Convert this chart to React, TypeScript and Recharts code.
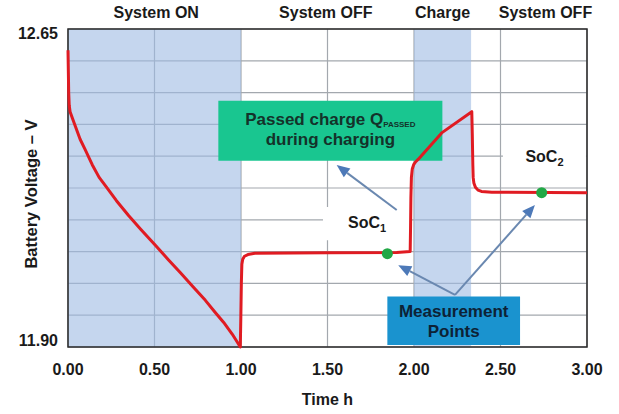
import React from "react"
import {
  ComposedChart,
  Line,
  Scatter,
  XAxis,
  YAxis,
  CartesianGrid,
  ReferenceArea,
  ReferenceLine,
} from "recharts"

const FONT = "'Liberation Sans', Arial, sans-serif"
const TEXT = "#1a1a1a"

// battery voltage trace (hours, volts)
const TIME = [
  0, 0.002, 0.004, 0.007, 0.012, 0.025, 0.043, 0.07, 0.1, 0.14, 0.18, 0.217, 0.28, 0.35, 0.42,
  0.505, 0.58, 0.65, 0.72, 0.794, 0.85, 0.9, 0.95, 0.996,
  0.999, 1.002, 1.005, 1.01, 1.02, 1.04, 1.08, 1.5, 1.9, 1.978,
  1.98, 1.982, 1.985, 1.99, 1.998, 2.01, 2.025, 2.16, 2.334,
  2.337, 2.34, 2.342, 2.346, 2.355, 2.37, 2.39, 2.45, 3.0,
]
const VOLTAGE = [
  12.6, 12.55, 12.5, 12.47, 12.455, 12.44, 12.42, 12.39, 12.365, 12.33, 12.3, 12.28, 12.245, 12.21,
  12.178, 12.14, 12.106, 12.075, 12.043, 12.01, 11.982, 11.958, 11.93, 11.9,
  11.97, 12.05, 12.095, 12.107, 12.114, 12.118, 12.121, 12.122, 12.123, 12.125,
  12.18, 12.25, 12.3, 12.32, 12.33, 12.337, 12.343, 12.405, 12.455,
  12.4, 12.33, 12.3, 12.287, 12.277, 12.27, 12.267, 12.265, 12.264,
]

const MEAS_T = [1.846, 2.738]
const MEAS_V = [12.12, 12.264]

const X_TICKS = [0, 0.5, 1, 1.5, 2, 2.5, 3]
const Y_TICKS = [11.9, 11.975, 12.05, 12.125, 12.2, 12.275, 12.35, 12.425, 12.5, 12.575, 12.65]
const Y_LABELED = [11.9, 12.65]

const PHASE_LABELS = ["System ON", "System OFF", "Charge", "System OFF"]
const PHASE_TICKS = [0.51, 1.49, 2.165, 2.76]

// shaded "on" phases
const BANDS = [
  [0, 1],
  [2, 2.33],
]

const curve = TIME.map((t, i) => ({ t, v: VOLTAGE[i] }))
const points = MEAS_T.map((t, i) => ({ t, v: MEAS_V[i] }))
const phaseName: Record<string, string> = {}
PHASE_TICKS.forEach((t, i) => (phaseName[String(t)] = PHASE_LABELS[i]))

function Arrow(props: any) {
  const { x1, y1, x2, y2 } = props
  const a = Math.atan2(y2 - y1, x2 - x1)
  const L = 13
  const W = 5.5
  const bx = x2 - L * Math.cos(a)
  const by = y2 - L * Math.sin(a)
  const pts = `${x2},${y2} ${bx + W * Math.sin(a)},${by - W * Math.cos(a)} ${bx - W * Math.sin(a)},${by + W * Math.cos(a)}`
  return (
    <g>
      <line x1={x1} y1={y1} x2={bx} y2={by} stroke="#6a88b0" strokeWidth={2} />
      <polygon points={pts} fill="#4d79b8" />
    </g>
  )
}

function YTick(props: any) {
  const { x, y, payload } = props
  if (!Y_LABELED.includes(payload.value)) return null
  const shift = payload.value === 12.65 ? 4 : -7
  return (
    <text x={x} y={y + shift} dy="0.35em" textAnchor="end" fontFamily={FONT} fontWeight="bold" fontSize={16} fill={TEXT}>
      {payload.value.toFixed(2)}
    </text>
  )
}

function XTick(props: any) {
  const { x, y, payload } = props
  return (
    <text x={x} y={y} textAnchor="middle" fontFamily={FONT} fontWeight="bold" fontSize={16} fill={TEXT}>
      {payload.value.toFixed(2)}
    </text>
  )
}

function PhaseTick(props: any) {
  const { x, payload } = props
  return (
    <text x={x} y={18} textAnchor="middle" fontFamily={FONT} fontWeight="bold" fontSize={16} fill={TEXT}>
      {phaseName[String(payload.value)]}
    </text>
  )
}

const boxText = { fontFamily: FONT, fontWeight: "bold" as const, fontSize: 17, fill: "#14322a", textAnchor: "middle" as const }

export default function App() {
  return (
    <div style={{ position: "absolute", left: 0, top: 0, background: "#fff" }}>
      <ComposedChart width={619} height={414} margin={{ top: 0, right: 32, bottom: 0, left: 0 }}>
        <CartesianGrid stroke="#a3a8ae" strokeWidth={1.2} />
        <XAxis
          dataKey="t"
          type="number"
          domain={[0, 3]}
          ticks={X_TICKS}
          height={67}
          axisLine={false}
          tickLine={false}
          tickSize={0}
          tickMargin={28}
          tick={<XTick />}
          interval={0}
          label={{
            content: ({ viewBox }: any) => (
              <text x={viewBox.x + viewBox.width / 2} y={viewBox.y + 58} textAnchor="middle" fontFamily={FONT} fontWeight="bold" fontSize={16} fill={TEXT}>
                Time h
              </text>
            ),
          }}
        />
        <XAxis
          xAxisId="top"
          orientation="top"
          dataKey="t"
          type="number"
          domain={[0, 3]}
          ticks={PHASE_TICKS}
          height={29}
          axisLine={false}
          tickLine={false}
          tickSize={0}
          tickMargin={11}
          tick={<PhaseTick />}
          interval={0}
        />
        <YAxis
          type="number"
          domain={[11.9, 12.65]}
          ticks={Y_TICKS}
          width={68}
          axisLine={false}
          tickLine={false}
          tickSize={0}
          tickMargin={10}
          tick={<YTick />}
          interval={0}
          label={{
            content: () => {
              const cx = 37
              const cy = 194
              return (
                <text x={cx} y={cy} transform={`rotate(-90, ${cx}, ${cy})`} textAnchor="middle" fontFamily={FONT} fontWeight="bold" fontSize={16.5} fill={TEXT}>
                  Battery Voltage – V
                </text>
              )
            },
          }}
        />

        {BANDS.map(([a, b], i) => (
          <ReferenceArea key={`band-${i}`} x1={a} x2={b} y1={11.9} y2={12.65} fill="#9fbbe3" fillOpacity={0.6} stroke="none" />
        ))}

        {/* white backdrops behind the SoC labels */}
        <ReferenceArea
          x1={1.474}
          x2={1.983}
          y1={12.152}
          y2={12.23}
          fill="#ffffff"
          fillOpacity={1}
          stroke="none"
          label={{
            content: ({ viewBox }: any) => (
              <text x={viewBox.x + viewBox.width / 2} y={viewBox.y + 21} textAnchor="middle" fontFamily={FONT} fontWeight="bold" fontSize={16} fill={TEXT}>
                SoC<tspan fontSize={11} dy={4}>1</tspan>
              </text>
            ),
          }}
        />
        <ReferenceArea
          x1={2.514}
          x2={2.994}
          y1={12.317}
          y2={12.381}
          fill="#ffffff"
          fillOpacity={1}
          stroke="none"
          label={{
            content: ({ viewBox }: any) => (
              <text x={viewBox.x + viewBox.width / 2} y={viewBox.y + 19} textAnchor="middle" fontFamily={FONT} fontWeight="bold" fontSize={16} fill={TEXT}>
                SoC<tspan fontSize={11} dy={4}>2</tspan>
              </text>
            ),
          }}
        />

        <ReferenceArea x1={0} x2={3} y1={11.9} y2={12.65} fill="none" stroke="#2a2a2a" strokeWidth={1.5} />

        {/* invisible series bound to the top axis so its phase labels render */}
        <Line
          xAxisId="top"
          data={curve}
          dataKey="v"
          stroke="none"
          dot={false}
          activeDot={false}
          legendType="none"
          isAnimationActive={false}
        />
        <Line
          data={curve}
          dataKey="v"
          type="linear"
          stroke="#e01b22"
          strokeWidth={3}
          strokeLinejoin="round"
          dot={false}
          activeDot={false}
          isAnimationActive={false}
        />
        <Scatter data={points} dataKey="v" fill="#22a846" isAnimationActive={false} shape={(p: any) => <circle cx={p.cx} cy={p.cy} r={5.5} fill="#22a846" />} />

        <ReferenceLine segment={[{ x: 1.9, y: 12.223 }, { x: 1.553, y: 12.329 }]} shape={<Arrow />} />
        <ReferenceLine segment={[{ x: 2.237, y: 12.023 }, { x: 1.909, y: 12.093 }]} shape={<Arrow />} />
        <ReferenceLine segment={[{ x: 2.237, y: 12.023 }, { x: 2.699, y: 12.235 }]} shape={<Arrow />} />

        <ReferenceArea
          x1={0.869}
          x2={2.164}
          y1={12.339}
          y2={12.481}
          fill="#19c690"
          fillOpacity={1}
          stroke="none"
          label={{
            content: ({ viewBox }: any) => {
              const cx = viewBox.x + viewBox.width / 2
              return (
                <g>
                  <text x={cx} y={viewBox.y + 24} {...boxText}>
                    Passed charge Q<tspan fontSize={8} dy={2}>PASSED</tspan>
                  </text>
                  <text x={cx} y={viewBox.y + 44} {...boxText}>
                    during charging
                  </text>
                </g>
              )
            },
          }}
        />
        <ReferenceArea
          x1={1.846}
          x2={2.613}
          y1={11.905}
          y2={12.019}
          fill="#1a93cf"
          fillOpacity={1}
          stroke="none"
          label={{
            content: ({ viewBox }: any) => {
              const cx = viewBox.x + viewBox.width / 2
              return (
                <g>
                  <text x={cx} y={viewBox.y + 20} {...boxText} fill="#0d2236">
                    Measurement
                  </text>
                  <text x={cx} y={viewBox.y + 40} {...boxText} fill="#0d2236">
                    Points
                  </text>
                </g>
              )
            },
          }}
        />
      </ComposedChart>
    </div>
  )
}
